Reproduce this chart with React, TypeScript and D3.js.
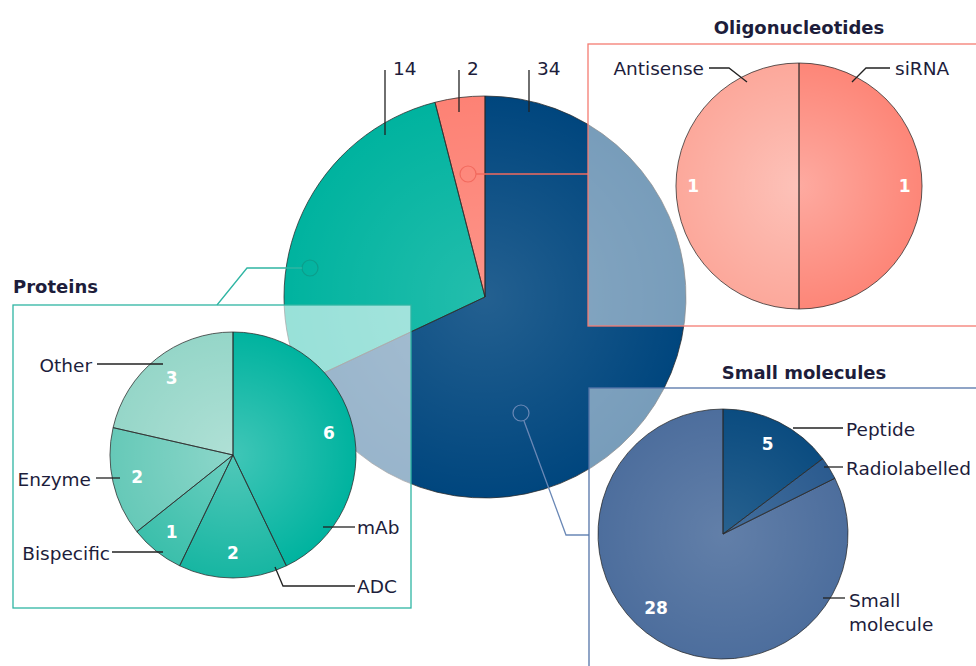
import * as d3 from 'd3';

// main pie: drug class counts
const mainCategories = ['Small molecules', 'Proteins', 'Oligonucleotides'];
const mainValues = [34, 14, 2];
const mainColors = ['#00467e', '#00b39f', '#fd8275'];

const proteinCategories = ['mAb', 'ADC', 'Bispecific', 'Enzyme', 'Other'];
const proteinValues = [6, 2, 1, 2, 3];
const proteinColors = ['#00b39f', '#17b6a2', '#3bbfab', '#66c9b8', '#95d6c8'];

const oligoCategories = ['siRNA', 'Antisense'];
const oligoValues = [1, 1];
const oligoColors = ['#fd8678', '#fca89b'];

const smallCategories = ['Peptide', 'Radiolabelled', 'Small molecule'];
const smallValues = [5, 1, 28];
const smallColors = ['#0b4c80', '#2b5b8f', '#4d6e9d'];

const FONT = "'DejaVu Sans', 'Open Sans', sans-serif";
const INK = '#1d1d3b';
const LABEL_SIZE = 18.5;
const deg = Math.PI / 180;

type Arc = d3.PieArcDatum<number>;

function Pie({
  cx,
  cy,
  r,
  values,
  colors,
  id,
  shine = 0.28,
  numberR = 0.8,
  numberAngle = {},
  hide = [],
}: {
  cx: number;
  cy: number;
  r: number;
  values: number[];
  colors: string[];
  id: string;
  shine?: number;
  numberR?: number | null;
  numberAngle?: Record<number, number>;
  hide?: number[];
}) {
  const arcs = d3.pie<number>().sort(null)(values);
  const arc = d3.arc<Arc>().innerRadius(0).outerRadius(r);
  return (
    <g transform={`translate(${cx},${cy})`}>
      <defs>
        <radialGradient id={id} cx="0.5" cy="0.5" r="0.5">
          <stop offset="0" stopColor="#fff" stopOpacity={shine} />
          <stop offset="1" stopColor="#fff" stopOpacity={0} />
        </radialGradient>
      </defs>
      {arcs.map((a, i) => (
        <path key={i} d={arc(a) ?? ''} fill={colors[i]} />
      ))}
      <circle r={r} fill={`url(#${id})`} />
      {arcs.map((a, i) => (
        <path key={'s' + i} d={arc(a) ?? ''} fill="none" stroke="#2a2a2a" strokeWidth={1} strokeOpacity={0.75} />
      ))}
      {numberR !== null &&
        arcs.map((a, i) => {
          if (hide.includes(i)) return null;
          const ang = numberAngle[i] !== undefined ? numberAngle[i] * deg : (a.startAngle + a.endAngle) / 2;
          const rr = r * (numberR as number);
          return (
            <text
              key={'n' + i}
              x={Math.sin(ang) * rr}
              y={-Math.cos(ang) * rr}
              textAnchor="middle"
              dominantBaseline="central"
              fill="#fff"
              fontFamily={FONT}
              fontWeight={700}
              fontSize={17}
            >
              {a.data}
            </text>
          );
        })}
    </g>
  );
}

function Label({
  pts,
  text,
  x,
  y,
  anchor,
  lines,
}: {
  pts: [number, number][];
  text: string;
  x: number;
  y: number;
  anchor: 'start' | 'end';
  lines?: string[];
}) {
  return (
    <g>
      <polyline points={pts.map((p) => p.join(',')).join(' ')} fill="none" stroke="#222" strokeWidth={1.3} />
      <text x={x} y={y} textAnchor={anchor} dominantBaseline="central" fill={INK} fontFamily={FONT} fontSize={LABEL_SIZE}>
        {lines
          ? lines.map((l, i) => (
              <tspan key={i} x={x} dy={i === 0 ? 0 : 24}>
                {l}
              </tspan>
            ))
          : text}
      </text>
    </g>
  );
}

export default function App() {
  const width = 976;
  const height = 666;
  const main = { cx: 485, cy: 297, r: 201 };
  const mainTop = [
    { v: mainValues[1], x: 385, y2: 135 },
    { v: mainValues[2], x: 459, y2: 112 },
    { v: mainValues[0], x: 529, y2: 112 },
  ];
  const titleStyle = { fontFamily: FONT, fontWeight: 700, fontSize: 18, fill: INK };

  return (
    <svg width={width} height={height} style={{ position: 'absolute', left: 0, top: 0 }}>
      <rect width={width} height={height} fill="#fff" />

      {/* main pie */}
      <Pie {...main} values={mainValues} colors={mainColors} id="gMain" shine={0.14} numberR={null} />
      {mainTop.map((t, i) => (
        <g key={i}>
          <line x1={t.x} x2={t.x} y1={70} y2={t.y2} stroke="#222" strokeWidth={1.3} />
          <text x={t.x + 8} y={68} dominantBaseline="central" fill={INK} fontFamily={FONT} fontSize={LABEL_SIZE}>
            {t.v}
          </text>
        </g>
      ))}

      {/* connectors */}
      <circle cx={468} cy={174} r={8} fill="none" stroke="#f26a5e" strokeWidth={1.2} />
      <line x1={476} y1={174} x2={588} y2={174} stroke="#f26a5e" strokeWidth={1.3} />
      <circle cx={310} cy={268} r={8} fill="none" stroke="#0d9d8b" strokeWidth={1.2} />
      <polyline points="302,268 247,268 217,305" fill="none" stroke="#2fb5a3" strokeWidth={1.3} />
      <circle cx={521} cy={413} r={8} fill="none" stroke="#6a88b6" strokeWidth={1.2} />
      <polyline points="524,421 566,535 589,535" fill="none" stroke="#6a88b6" strokeWidth={1.3} />

      {/* Oligonucleotides panel */}
      <rect x={588} y={44} width={400} height={282} fill="#fff" fillOpacity={0.47} stroke="#f47c72" strokeWidth={1.3} />
      <text x={799} y={27} textAnchor="middle" dominantBaseline="central" {...titleStyle}>
        Oligonucleotides
      </text>
      <Pie cx={799} cy={186} r={123} values={oligoValues} colors={oligoColors} id="gOligo" shine={0.3} numberR={0.86} />
      <Label pts={[[709, 68], [729, 68], [747, 82]]} text={oligoCategories[1]} x={704} y={68} anchor="end" />
      <Label pts={[[852, 82], [866, 68], [890, 68]]} text={oligoCategories[0]} x={895} y={68} anchor="start" />

      {/* Proteins panel */}
      <rect x={13} y={305} width={398} height={303} fill="#fff" fillOpacity={0.6} stroke="#2fb5a3" strokeWidth={1.3} />
      <text x={13} y={286} dominantBaseline="central" {...titleStyle}>
        Proteins
      </text>
      <Pie cx={233} cy={455} r={123} values={proteinValues} colors={proteinColors} id="gProt" shine={0.25} numberR={0.8} />
      <Label pts={[[97, 364], [163, 364]]} text={proteinCategories[4]} x={92} y={365} anchor="end" />
      <Label pts={[[96, 478], [120, 478]]} text={proteinCategories[3]} x={91} y={479} anchor="end" />
      <Label pts={[[112, 552], [163, 552]]} text={proteinCategories[2]} x={110} y={553} anchor="end" />
      <Label pts={[[323, 527], [355, 527]]} text={proteinCategories[0]} x={357} y={527} anchor="start" />
      <Label pts={[[275, 567], [283, 586], [355, 586]]} text={proteinCategories[1]} x={357} y={586} anchor="start" />

      {/* Small molecules panel */}
      <rect x={589} y={388} width={400} height={290} fill="#fff" fillOpacity={0.47} stroke="#5574a8" strokeWidth={1.3} />
      <text x={804} y={372} textAnchor="middle" dominantBaseline="central" {...titleStyle}>
        Small molecules
      </text>
      <Pie
        cx={723}
        cy={534}
        r={125}
        values={smallValues}
        colors={smallColors}
        id="gSmall"
        shine={0.12}
        numberR={0.8}
        numberAngle={{ 2: 222 }}
        hide={[1]}
      />
      <Label pts={[[793, 428], [843, 428]]} text={smallCategories[0]} x={846} y={429} anchor="start" />
      <Label pts={[[824, 467], [843, 467]]} text={smallCategories[1]} x={846} y={468} anchor="start" />
      <Label
        pts={[[823, 598], [845, 598]]}
        text={smallCategories[2]}
        lines={['Small', 'molecule']}
        x={849}
        y={600}
        anchor="start"
      />
    </svg>
  );
}
